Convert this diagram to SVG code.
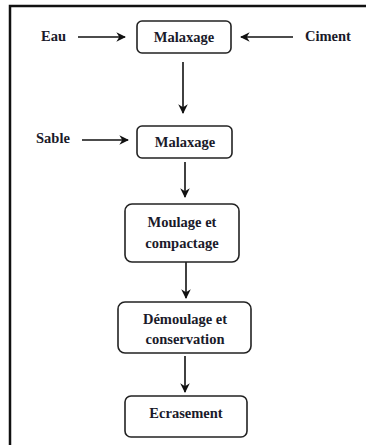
<svg xmlns="http://www.w3.org/2000/svg" width="366" height="445" viewBox="0 0 366 445">
<defs>
<style>
.frame{fill:none;stroke:#111;stroke-width:2.5}
.box{fill:#fff;stroke:#222;stroke-width:1.6}
text{font-family:'Liberation Serif','Times New Roman',serif;font-weight:bold;fill:#1a1a2a}
.t{font-size:14.5px;text-anchor:middle}
.lbl{font-size:14.5px}
.c{fill:none;stroke:#111;stroke-width:1.6;marker-end:url(#ah)}
</style>
<marker id="ah" viewBox="0 0 10 10" refX="9" refY="5" markerWidth="6" markerHeight="6" orient="auto" markerUnits="strokeWidth">
<path d="M0,0 L10,5 L0,10 L3,5 Z" fill="#111"/>
</marker>
</defs>
<rect fill="#fff" x="0" y="0" width="366" height="445"/>
<path class="frame" d="M10,446 V6 H367"/>
<g id="connectors">
<line class="c" x1="78" y1="37" x2="125" y2="37"/>
<line class="c" x1="293" y1="37" x2="241" y2="37"/>
<line class="c" x1="183" y1="62" x2="183" y2="113"/>
<line class="c" x1="82" y1="140" x2="128" y2="140"/>
<line class="c" x1="185" y1="162" x2="185" y2="197"/>
<line class="c" x1="186" y1="262" x2="186" y2="298"/>
<line class="c" x1="185" y1="356" x2="185" y2="392"/>
</g>
<g id="eau"><text class="lbl" x="41" y="41">Eau</text></g>
<g id="ciment"><text class="lbl" x="305" y="41">Ciment</text></g>
<g id="sable"><text class="lbl" x="36" y="143">Sable</text></g>
<g id="malaxage1">
<rect class="box" x="137" y="21" width="94" height="32" rx="5"/>
<text class="t" x="184" y="42">Malaxage</text>
</g>
<g id="malaxage2">
<rect class="box" x="137" y="126" width="95" height="32" rx="5"/>
<text class="t" x="185" y="147">Malaxage</text>
</g>
<g id="moulage">
<rect class="box" x="125" y="204" width="114" height="58" rx="7"/>
<text class="t" x="182" y="227">Moulage et</text>
<text class="t" x="182" y="248">compactage</text>
</g>
<g id="demoulage">
<rect class="box" x="118" y="302" width="133" height="51" rx="7"/>
<text class="t" x="185" y="324">Démoulage et</text>
<text class="t" x="185" y="344">conservation</text>
</g>
<g id="ecrasement">
<rect class="box" x="125" y="396" width="122" height="41" rx="6"/>
<text class="t" x="186" y="418">Ecrasement</text>
</g>
</svg>
